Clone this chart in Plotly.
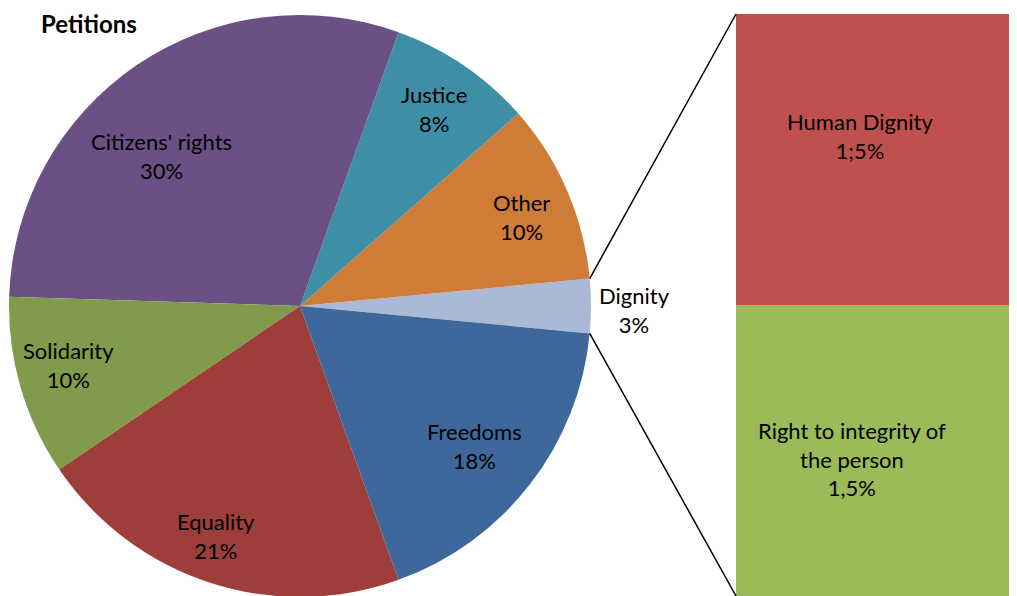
import math
import plotly.graph_objects as go

# pie data (counterclockwise from 3 o'clock)
labels = ["Dignity", "Other", "Justice", "Citizens' rights", "Solidarity", "Equality", "Freedoms"]
values = [3, 10, 8, 30, 10, 21, 18]
colors = ["#AABAD6", "#CF7C38", "#3E8EA6", "#6A5085", "#7F9B4B", "#9D3E3B", "#3E689C"]

# breakdown of the Dignity slice
bar_labels = ["Right to integrity of<br>the person", "Human Dignity"]
bar_values = [1.5, 1.5]
bar_texts = ["1,5%", "1;5%"]
bar_colors = ["#9BBB59", "#C0504D"]

W, H = 1017, 596
FONT = "Lato"
OFF = 8  # page body margin, figure sits 8px in

# pie geometry in page pixels
cx, cy, R = 300 - OFF, 306 - OFF, 291
total = sum(values)
half_first = values[0] / total * 360 / 2
rotation = 90 - half_first

fig = go.Figure()
fig.add_trace(go.Pie(
    values=values, labels=labels, sort=False,
    direction="counterclockwise", rotation=rotation,
    marker=dict(colors=colors, line=dict(width=0)),
    textinfo="none", showlegend=False, hoverinfo="label+percent",
    domain=dict(x=[(cx - R) / W, (cx + R) / W], y=[(H - cy - R) / H, (H - cy + R) / H]),
))

# stacked bar on the right
bar_left, bar_top, bar_bottom = 736 - OFF, 14 - OFF, 596 - OFF
for lab, val, col in zip(bar_labels, bar_values, bar_colors):
    fig.add_trace(go.Bar(
        x=[0], y=[val], width=1, marker=dict(color=col, line=dict(width=0)),
        name=lab, showlegend=False, hoverinfo="name+y",
    ))

# pie labels: placed along each slice's mid angle
place = {  # radius fraction, angle shift (deg)
    "Dignity": (1.15, -0.7),
    "Other": (0.82, -1.5),
    "Justice": (0.82, 0),
    "Citizens' rights": (0.70, 8.5),
    "Solidarity": (0.82, -2),
    "Equality": (0.84, -2),
    "Freedoms": (0.77, -1),
}
ann = []
start = -half_first
for lab, val in zip(labels, values):
    span = val / total * 360
    fr, shift = place[lab]
    a = math.radians(start + span / 2 + shift)
    px = cx + fr * R * math.cos(a)
    py = cy - fr * R * math.sin(a)
    ann.append(dict(
        x=px / W, y=1 - py / H, xref="paper", yref="paper",
        xanchor="center", yanchor="middle",
        text=f"{lab}<br>{val}%", showarrow=False,
        font=dict(family=FONT, size=22, color="#000000"),
    ))
    start += span

# bar labels
cum = 0
for lab, val, txt, off in zip(bar_labels, bar_values, bar_texts, [(-0.1, 0.47), (-0.07, 0.58)]):
    ann.append(dict(
        x=off[0], y=cum + val * off[1], xref="x", yref="y",
        xanchor="center", yanchor="middle",
        text=f"{lab}<br>{txt}", showarrow=False,
        font=dict(family=FONT, size=22, color="#000000"),
    ))
    cum += val

ann.append(dict(
    x=(40 - OFF) / W, y=1, xref="paper", yref="paper",
    xanchor="left", yanchor="top", borderpad=0,
    text="<b>Petitions</b>", showarrow=False,
    font=dict(family=FONT, size=24, color="#000000"),
))

# connector lines from the Dignity slice edges to the bar corners
a = math.radians(half_first)
ex = cx + R * math.cos(a)
shapes = [
    dict(type="line", xref="paper", yref="paper",
         x0=ex / W, y0=1 - (cy - R * math.sin(a)) / H, x1=bar_left / W, y1=1 - bar_top / H,
         line=dict(color="#000000", width=1.5)),
    dict(type="line", xref="paper", yref="paper",
         x0=ex / W, y0=1 - (cy + R * math.sin(a)) / H, x1=bar_left / W, y1=1 - bar_bottom / H,
         line=dict(color="#000000", width=1.5)),
]

fig.update_layout(
    width=W, height=H,
    margin=dict(l=0, r=0, t=0, b=0),
    paper_bgcolor="white", plot_bgcolor="white",
    barmode="stack", bargap=0,
    xaxis=dict(domain=[bar_left / W, 1], range=[-0.5, 0.5], visible=False, fixedrange=True),
    yaxis=dict(domain=[1 - bar_bottom / H, 1 - bar_top / H], range=[0, sum(bar_values)],
               visible=False, fixedrange=True),
    annotations=ann, shapes=shapes,
    font=dict(family=FONT),
)

fig.write_html("out.html")
